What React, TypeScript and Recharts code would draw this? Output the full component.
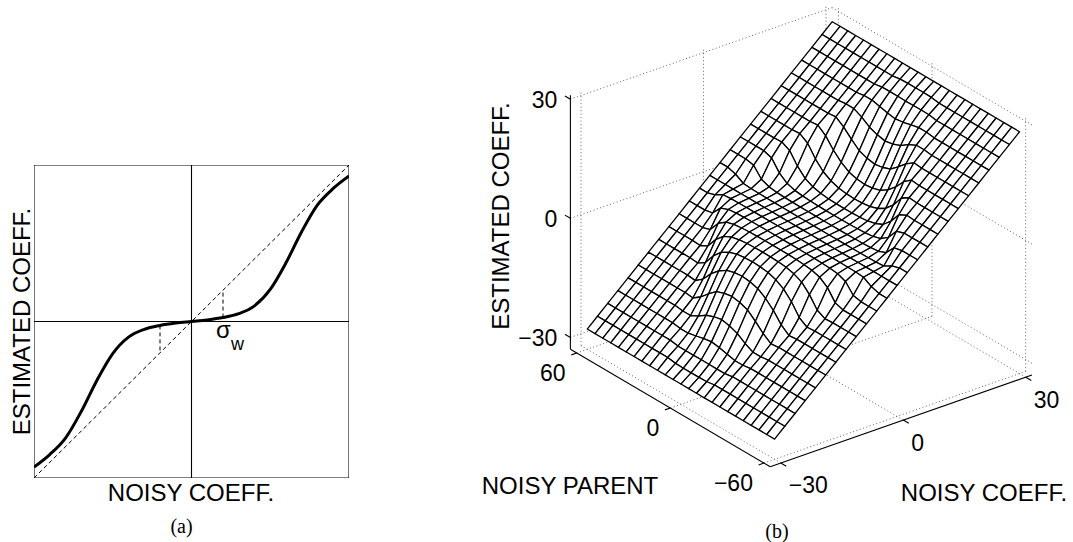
import React from 'react';
import { ScatterChart, Scatter, XAxis, YAxis } from 'recharts';

// ---------------- Panel (a) data ----------------
const noisyCoeff = [-1, -0.9, -0.8, -0.7, -0.6, -0.5, -0.4, -0.3, -0.2, -0.1, 0, 0.1, 0.2, 0.3, 0.4, 0.5, 0.6, 0.7, 0.8, 0.9, 1];
const estimatedCoeff = [-0.93, -0.85, -0.745, -0.575, -0.375, -0.205, -0.1, -0.05, -0.025, -0.01, 0, 0.01, 0.025, 0.05, 0.1, 0.205, 0.375, 0.575, 0.745, 0.85, 0.93];
const sigmaW = [-0.2, 0.2];
const axisRangeA = [-1, 1];

// ---------------- Panel (b) data ----------------
const meshCoeff = [-30, -27.5, -25, -22.5, -20, -17.5, -15, -12.5, -10, -7.5, -5, -2.5, 0, 2.5, 5, 7.5, 10, 12.5, 15, 17.5, 20, 22.5, 25, 27.5, 30];
const meshParent = [-60, -55, -50, -45, -40, -35, -30, -25, -20, -15, -10, -5, 0, 5, 10, 15, 20, 25, 30, 35, 40, 45, 50, 55, 60];
// width of the shrinkage zone (in coefficient units) for each parent row
const shrinkWidth = [1, 2, 4, 7, 10.5, 14, 17.5, 21, 24, 26.5, 28.5, 29.5, 30, 29.5, 28.5, 26.5, 24, 21, 17.5, 14, 10.5, 7, 4, 2, 1];
const tailSlope = 0.93;

const coeffTicks = [-30, 0, 30];
const parentTicks = [-60, 0, 60];
const estTicks = [-30, 0, 30];
const coeffLimits = [-32.6, 31.5];
const parentLimits = [-64, 64];
const estLimits = [-33, 31];

// ---------------- helpers ----------------
const FONT = '"Liberation Sans", Arial, Helvetica, sans-serif';
const SERIF = '"Liberation Serif", "Times New Roman", serif';

// orthographic view (pixels per data unit)
const VIEW = { ux: 4.083, up: -1.561, vx: 1.43, vp: 0.917, vz: 3.97 };
const ORIGIN = { X: 803.4, Y: 230.4 };
const B_LEFT = 480;
const B_W = 593;
const H = 542;

const proj = (x: number, p: number, z: number) => ({
  u: VIEW.ux * x + VIEW.up * p,
  v: VIEW.vx * x + VIEW.vp * p + VIEW.vz * z,
});

function profileAt(u: number) {
  const n = noisyCoeff.length;
  const step = noisyCoeff[1] - noisyCoeff[0];
  const t = (u - noisyCoeff[0]) / step;
  let i = Math.floor(t);
  if (i >= n - 1) i = n - 2;
  if (i < 0) i = 0;
  const f = t - i;
  const y0 = estimatedCoeff[Math.max(i - 1, 0)];
  const y1 = estimatedCoeff[i];
  const y2 = estimatedCoeff[i + 1];
  const y3 = estimatedCoeff[Math.min(i + 2, n - 1)];
  return 0.5 * (2 * y1 + (-y0 + y2) * f + (2 * y0 - 5 * y1 + 4 * y2 - y3) * f * f + (-y0 + 3 * y1 - 3 * y2 + y3) * f * f * f);
}

function estimate(x: number, j: number) {
  const w = shrinkWidth[j];
  const a = Math.abs(x);
  const edge = estimatedCoeff[estimatedCoeff.length - 1];
  const z = a <= w ? w * profileAt(a / w) : w * edge + tailSlope * (a - w);
  return Math.sign(x) * z;
}

const fmt = (n: number) => (n < 0 ? '\u2212' + Math.abs(n) : String(n));

// ---------------- custom renderers ----------------
const NoDot = () => null;

function PairLines(props: any) {
  const { points, segColor = '#000', segWidth = 1, segDash } = props;
  const out: any[] = [];
  for (let k = 0; k + 1 < points.length; k += 2) {
    const a = points[k];
    const b = points[k + 1];
    out.push(
      <line key={k} x1={a.x} y1={a.y} x2={b.x} y2={b.y} stroke={segColor} strokeWidth={segWidth} strokeDasharray={segDash} />
    );
  }
  return <g>{out}</g>;
}

function StripCells(props: any) {
  const { points } = props;
  const n = points.length / 2;
  const polys: any[] = [];
  for (let i = n - 2; i >= 0; i--) {
    const a = points[i];
    const b = points[i + 1];
    const c = points[n + i + 1];
    const d = points[n + i];
    polys.push(
      <polygon
        key={i}
        points={`${a.x},${a.y} ${b.x},${b.y} ${c.x},${c.y} ${d.x},${d.y}`}
        fill="#fff"
        stroke="#000"
        strokeWidth={1.3}
        strokeLinejoin="round"
      />
    );
  }
  return <g>{polys}</g>;
}

const LABEL_STYLE: any = {
  x: { dx: 8, dy: 22.5, anchor: 'start' },
  p: { dx: -11, dy: 19.5, anchor: 'end' },
  z: { dx: -13, dy: 1, anchor: 'end' },
};

function TickText(props: any) {
  const { cx, cy, payload } = props;
  const s = LABEL_STYLE[payload.kind];
  return (
    <text x={cx + s.dx} y={cy + s.dy} textAnchor={s.anchor} dominantBaseline="central" fontSize={23} fontFamily={FONT} fill="#000">
      {payload.text}
    </text>
  );
}

// ---------------- Panel (a) series ----------------
const [a0, a1] = axisRangeA;
const frameA = [
  { u: a0, v: a0 }, { u: a1, v: a0 },
  { u: a1, v: a0 }, { u: a1, v: a1 },
  { u: a1, v: a1 }, { u: a0, v: a1 },
  { u: a0, v: a1 }, { u: a0, v: a0 },
  { u: 0, v: a0 }, { u: 0, v: a1 },
  { u: a0, v: 0 }, { u: a1, v: 0 },
];
const identityA = [{ u: a0, v: a0 }, { u: a1, v: a1 }];
const sigmaA = sigmaW.flatMap((s) => [{ u: s, v: profileAt(s) }, { u: s, v: s }]);
const curveA = noisyCoeff.map((u, i) => ({ u, v: estimatedCoeff[i] }));

// ---------------- Panel (b) series ----------------
const strips: any[] = [];
for (let j = meshParent.length - 2; j >= 0; j--) {
  const front = meshCoeff.map((x) => proj(x, meshParent[j], estimate(x, j)));
  const back = meshCoeff.map((x) => proj(x, meshParent[j + 1], estimate(x, j + 1)));
  strips.push({ key: j, data: [...front, ...back] });
}

const [xb, xe] = coeffLimits;
const [pb0, pb1] = parentLimits;
const [zb, zt] = estLimits;

const gridB: any[] = [];
coeffTicks.forEach((x) => {
  gridB.push(proj(x, pb0, zb), proj(x, pb1, zb));
  gridB.push(proj(x, pb1, zb), proj(x, pb1, zt));
});
parentTicks.forEach((p) => {
  gridB.push(proj(xb, p, zb), proj(xe, p, zb));
  gridB.push(proj(xe, p, zb), proj(xe, p, zt));
});
estTicks.forEach((z) => {
  gridB.push(proj(xb, pb1, z), proj(xe, pb1, z));
  gridB.push(proj(xe, pb0, z), proj(xe, pb1, z));
});

const axesB: any[] = [
  proj(xb, pb0, zb), proj(xe, pb0, zb),
  proj(xb, pb0, zb), proj(xb, pb1, zb),
  proj(xb, pb1, zb), proj(xb, pb1, zt),
];
coeffTicks.forEach((x) => axesB.push(proj(x, pb0, zb), proj(x, pb0 - 3.5, zb)));
parentTicks.forEach((p) => axesB.push(proj(xb, p, zb), proj(xb - 1.3, p, zb)));
estTicks.forEach((z) => axesB.push(proj(xb, pb1, z), proj(xb, pb1 + 3.5, z)));

const tickLabelData = [
  ...coeffTicks.map((t) => ({ ...proj(t, pb0, zb), text: fmt(t), kind: 'x' })),
  ...parentTicks.map((t) => ({ ...proj(xb, t, zb), text: fmt(t), kind: 'p' })),
  ...estTicks.map((t) => ({ ...proj(xb, pb1, t), text: fmt(t), kind: 'z' })),
];

const uDomain = [B_LEFT - ORIGIN.X, B_LEFT + B_W - ORIGIN.X];
const vDomain = [ORIGIN.Y - H, ORIGIN.Y];

export default function App() {
  return (
    <div style={{ position: 'absolute', left: 0, top: 0, width: 1073, height: 542, background: '#fff', overflow: 'hidden' }}>
      {/* Panel (a) */}
      <div style={{ position: 'absolute', left: 0, top: 0 }}>
        <ScatterChart width={380} height={542} margin={{ top: 165, right: 31, bottom: 64, left: 34 }}>
          <XAxis type="number" dataKey="u" domain={axisRangeA} hide allowDataOverflow />
          <YAxis type="number" dataKey="v" domain={axisRangeA} hide allowDataOverflow />
          <Scatter data={frameA} shape={NoDot} line={<PairLines segColor="#000" segWidth={1.1} />} isAnimationActive={false} />
          <Scatter data={identityA} shape={NoDot} line={<PairLines segColor="#000" segWidth={1} segDash="4 3" />} isAnimationActive={false} />
          <Scatter data={sigmaA} shape={NoDot} line={<PairLines segColor="#000" segWidth={1} segDash="4 3" />} isAnimationActive={false} />
          <Scatter data={curveA} shape={NoDot} line={{ stroke: '#000', strokeWidth: 3 }} lineJointType="monotoneX" fill="#000" isAnimationActive={false} />
        </ScatterChart>
      </div>

      {/* Panel (b) */}
      <div style={{ position: 'absolute', left: B_LEFT, top: 0 }}>
        <ScatterChart width={B_W} height={H} margin={{ top: 0, right: 0, bottom: 0, left: 0 }}>
          <XAxis type="number" dataKey="u" domain={uDomain} hide allowDataOverflow />
          <YAxis type="number" dataKey="v" domain={vDomain} hide allowDataOverflow />
          <Scatter data={gridB} shape={NoDot} line={<PairLines segColor="#666" segWidth={1} segDash="1 2.5" />} isAnimationActive={false} />
          {strips.map((s) => (
            <Scatter key={s.key} data={s.data} shape={NoDot} line={<StripCells />} isAnimationActive={false} />
          ))}
          <Scatter data={axesB} shape={NoDot} line={<PairLines segColor="#000" segWidth={1.1} />} isAnimationActive={false} />
          <Scatter data={tickLabelData} shape={(p: any) => <TickText {...p} />} isAnimationActive={false} />
        </ScatterChart>
      </div>

      {/* Titles */}
      <svg width={1073} height={542} style={{ position: 'absolute', left: 0, top: 0, pointerEvents: 'none' }}>
        <g fontFamily={FONT} fontSize={24} fill="#000">
          <text x={21} y={321.5} textAnchor="middle" dominantBaseline="central" transform="rotate(-90 21 321.5)">ESTIMATED COEFF.</text>
          <text x={191} y={492} textAnchor="middle" dominantBaseline="central">NOISY COEFF.</text>
          <text x={216} y={338} fontSize={24}>σ</text>
          <text x={231} y={350} fontSize={18}>w</text>
          <text x={500} y={216} textAnchor="middle" dominantBaseline="central" transform="rotate(-90 500 216)">ESTIMATED COEFF.</text>
          <text x={570} y={485} textAnchor="middle" dominantBaseline="central">NOISY PARENT</text>
          <text x={984} y={492} textAnchor="middle" dominantBaseline="central">NOISY COEFF.</text>
        </g>
        <g fontFamily={SERIF} fontSize={20} fill="#000">
          <text x={181.5} y={526} textAnchor="middle" dominantBaseline="central">(a)</text>
          <text x={777} y={531} textAnchor="middle" dominantBaseline="central">(b)</text>
        </g>
      </svg>
    </div>
  );
}
